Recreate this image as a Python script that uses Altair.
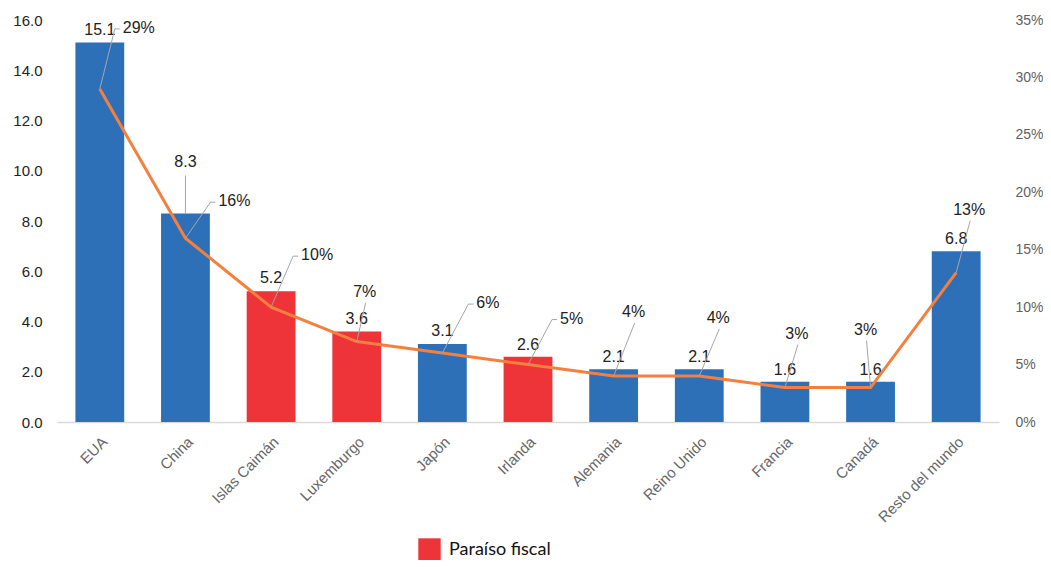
import altair as alt
import pandas as pd

# ---- data ----
paises = ["EUA", "China", "Islas Caimán", "Luxemburgo", "Japón", "Irlanda",
          "Alemania", "Reino Unido", "Francia", "Canadá", "Resto del mundo"]
valores = [15.1, 8.3, 5.2, 3.6, 3.1, 2.6, 2.1, 2.1, 1.6, 1.6, 6.8]
porcentajes = [29, 16, 10, 7, 6, 5, 4, 4, 3, 3, 13]
grupos = ["Otro", "Otro", "Paraíso fiscal", "Paraíso fiscal", "Otro", "Paraíso fiscal",
          "Otro", "Otro", "Otro", "Otro", "Otro"]

# ---- label callout styling (pixel offsets from the anchor point) ----
BAR_LABEL_DY = [-13, -51, -13, -13, -13, -12, -12, -12, -12, -12, -12]
PCT_LABEL_DX = [23, 33, 30, 8, 34, 32, 20, 19, 12, -5, 13]
PCT_LABEL_DY = [-61, -37, -52, -50, -50, -46, -64, -58, -54, -58, -63]
PCT_HOOK = [True, True, True, False, True, True, False, False, False, False, False]

BLUE = "#2E70B8"
RED = "#EE3339"
ORANGE = "#F5803E"
LEADER = "#A6A6A6"
FONT = "Liberation Sans"

df = pd.DataFrame({
    "idx": list(range(len(paises))),
    "pais": paises,
    "valor": valores,
    "pct": porcentajes,
    "grupo": grupos,
})

base = alt.Chart(df)

X = alt.X("pais:N", sort=paises, bandPosition=0.5,
          scale=alt.Scale(paddingInner=0.43, paddingOuter=0.215),
          axis=alt.Axis(title=None, labelAngle=-45, labelFont=FONT, labelFontSize=15,
                        labelColor="#666666", ticks=False, domainColor="#D9D9D9",
                        domainWidth=1.5, labelPadding=12))
X2 = alt.X2("pais:N", bandPosition=0.5)

YV = alt.Y("valor:Q", scale=alt.Scale(domain=[0, 16]),
           axis=alt.Axis(title=None, values=list(range(0, 17, 2)), format=".1f",
                         labelFont=FONT, labelFontSize=15, labelColor="#222222",
                         grid=False, domain=False, ticks=False, labelPadding=15))
YP = alt.Y("pct:Q", scale=alt.Scale(domain=[0, 35]),
           axis=alt.Axis(title=None, orient="right", values=list(range(0, 36, 5)),
                         labelExpr="datum.value + '%'", labelFont=FONT, labelFontSize=14,
                         labelColor="#5F5F5F", grid=False, domain=False, ticks=False,
                         labelPadding=16))

bars = base.mark_bar().encode(
    x=X, y=YV,
    color=alt.Color("grupo:N",
                    scale=alt.Scale(domain=["Paraíso fiscal", "Otro"], range=[RED, BLUE]),
                    legend=alt.Legend(title=None, values=["Paraíso fiscal"], orient="none",
                                      legendX=361, legendY=518, symbolType="square",
                                      symbolSize=500, symbolStrokeWidth=0,
                                      labelFont="Lato", labelFontSize=18,
                                      labelColor="#111111", labelOffset=8)),
)

bar_layers = [bars]
for i in range(len(paises)):
    sub = base.transform_filter(alt.datum.idx == i)
    bar_layers.append(
        sub.mark_text(dy=BAR_LABEL_DY[i], font=FONT, fontSize=16, color="#222222",
                      baseline="middle").encode(x=X, y=YV, text=alt.Text("valor:Q", format=".1f"))
    )
    if BAR_LABEL_DY[i] < -20:
        bar_layers.append(
            sub.mark_rule(color=LEADER, strokeWidth=1, y2Offset=BAR_LABEL_DY[i] + 13).encode(
                x=X, y=YV, y2=alt.Y2("valor:Q"))
        )

pct_layers = [base.mark_line(color=ORANGE, strokeWidth=3).encode(x=X, y=YP)]
for i in range(len(paises)):
    sub = base.transform_filter(alt.datum.idx == i)
    dx, dy = PCT_LABEL_DX[i], PCT_LABEL_DY[i]
    if PCT_HOOK[i]:
        pct_layers.append(
            sub.mark_rule(color=LEADER, strokeWidth=1, x2Offset=dx - 8, y2Offset=dy + 1).encode(
                x=X, x2=X2, y=YP, y2=alt.Y2("pct:Q"))
        )
        pct_layers.append(
            sub.mark_rule(color=LEADER, strokeWidth=1, xOffset=dx - 8, yOffset=dy + 1,
                          x2Offset=dx - 3, y2Offset=dy + 1).encode(
                x=X, x2=X2, y=YP, y2=alt.Y2("pct:Q"))
        )
        pct_layers.append(
            sub.mark_text(dx=dx, dy=dy, align="left", baseline="middle", font=FONT,
                          fontSize=16, color="#222222").encode(
                x=X, y=YP, text=alt.Text("label:N")).transform_calculate(
                label="datum.pct + '%'")
        )
    else:
        pct_layers.append(
            sub.mark_rule(color=LEADER, strokeWidth=1, x2Offset=dx + 1, y2Offset=dy + 11).encode(
                x=X, x2=X2, y=YP, y2=alt.Y2("pct:Q"))
        )
        pct_layers.append(
            sub.mark_text(dx=dx, dy=dy, align="center", baseline="middle", font=FONT,
                          fontSize=16, color="#222222").encode(
                x=X, y=YP, text=alt.Text("label:N")).transform_calculate(
                label="datum.pct + '%'")
        )

chart = alt.layer(
    alt.layer(*bar_layers),
    alt.layer(*pct_layers),
).resolve_scale(y="independent").properties(
    width=942, height=402,
    autosize=alt.AutoSizeParams(type="none"),
    padding={"left": 49, "top": 12, "right": 44, "bottom": 138},
).configure_view(stroke=None)

chart.save("out.html", embed_options={"renderer": "svg", "actions": False})
